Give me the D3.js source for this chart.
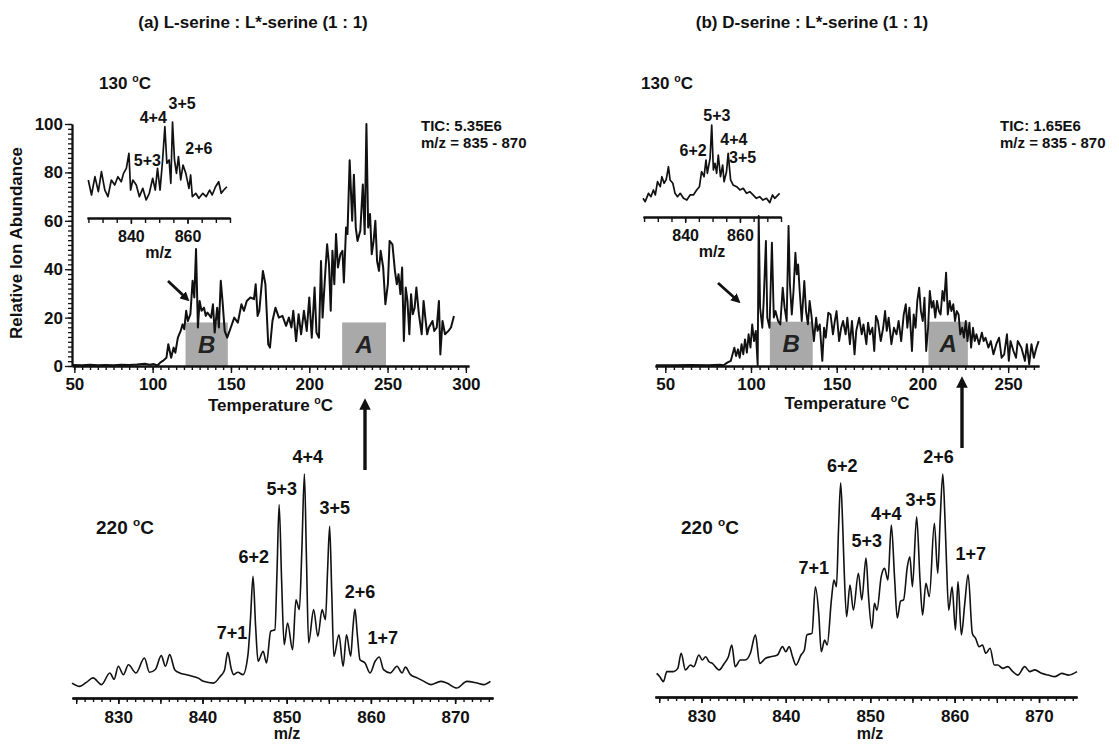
<!DOCTYPE html>
<html>
<head>
<meta charset="utf-8">
<title>L-serine / D-serine : L*-serine octamers</title>
<script src="https://d3js.org/d3.v7.min.js"></script>
<style>
  body { margin: 0; background: #fff; }
  svg text { font-family: "Liberation Sans", Arial, sans-serif; font-weight: bold; fill: #111; }
  .axis path, .axis line { stroke: #111; }
</style>
</head>
<body>
<script>
// ---- data ----
// total ion chromatograms, [temperature C, relative abundance]
var ticA = [[48.5,0.4],[55,0.3],[60,0.5],[65,0.3],[70,0.4],[75,0.3],[80,0.5],[85,0.4],[90,0.6],[95,0.9],[98,0.5],[100.8,0.8],[103.1,0.2],[105,1.5],[106.5,2.1],[108.8,3.4],[110,9.0],[111.8,3.4],[113.4,7.6],[114.5,5.5],[116.1,11.7],[117.9,14.5],[119.1,17.2],[120.2,15.2],[121.4,22.8],[122.5,18.6],[124.1,21.4],[125.5,35.2],[126.6,28.3],[127.7,48.3],[128.9,15.9],[130,26.9],[131.2,22.8],[132.8,24.1],[133.9,20.7],[135,22.1],[137.3,20.0],[138.5,25.5],[139.6,13.8],[141.2,24.1],[142.3,15.9],[143.5,35.2],[144.6,26.9],[146,14.5],[147.6,11.7],[149.9,15.9],[152.1,20.0],[154.4,17.9],[156.7,25.5],[158.3,22.8],[160.1,26.9],[162.4,28.3],[164.7,27.6],[165.8,33.8],[167,20.7],[168.1,22.8],[170.4,39.3],[172,33.8],[173.8,9.0],[174.9,7.6],[176.5,18.6],[178.4,24.1],[180.6,20.0],[182.9,20.7],[185.2,16.6],[187,20.0],[188.6,15.9],[189.8,22.8],[191.6,10.3],[193.2,21.4],[194.8,13.1],[196.6,22.8],[198.4,14.5],[200,28.3],[201.6,11.7],[203.4,32.4],[204.6,13.8],[206.2,11.7],[207.5,43.4],[208.5,20.0],[210.3,39.3],[211.4,50.3],[212.6,42.1],[213.7,22.8],[214.8,47.6],[216,33.8],[217.1,54.5],[218.3,40.7],[219.9,46.2],[221.2,47.6],[222.1,34.5],[223.5,57.2],[224.4,54.5],[225.8,85],[227.4,60],[228.5,79],[229.7,57.2],[230.8,51.7],[232.6,55.9],[234.2,75],[235.4,54.5],[236.5,100],[237.6,57.2],[238.8,62.8],[239.9,46.2],[241.1,51.7],[242.2,60.0],[243.3,43.4],[244.5,39.3],[245.6,47.6],[247.2,40.7],[248.6,25.5],[250.2,33.8],[251.3,51.7],[253.1,50.3],[254.7,39.3],[255.9,33.8],[257,37.9],[258.2,29.7],[259.3,40.7],[260.4,10.3],[261.6,32.4],[262.7,26.9],[263.9,13.1],[265,29.7],[266.1,21.4],[267.3,24.1],[268.4,32.4],[270,21.4],[271.8,13.1],[273,26.9],[274.1,20.0],[275.3,13.1],[276.4,15.9],[278.7,18.6],[279.8,14.5],[281.4,15.9],[282.8,26.9],[283.7,4.8],[285.1,18.6],[286.7,13.1],[288.9,14.5],[290.5,15.9],[292.4,20.7]];

var ticB = [[44.5,0.3],[55,0.3],[65,0.4],[75,0.3],[82,0.5],[84,0.3],[86.1,1.4],[88.2,2.1],[90.3,7.6],[91.3,4.1],[92.4,6.9],[93.4,3.4],[94.5,9.0],[95.5,4.8],[96.5,11.0],[97.6,5.5],[98.6,13.1],[99.7,7.6],[100.7,17.2],[101.8,10.3],[102.8,14.5],[103.9,0.3],[104.5,62.0],[105.3,24.1],[106.6,15.8],[107.4,26.9],[108.7,51.7],[109.5,20.0],[110.8,15.8],[112.2,51.0],[113.3,20.0],[114.3,22.7],[115.8,18.6],[117.1,17.2],[118.5,32.4],[119.6,24.1],[120.8,18.6],[121.9,57.9],[122.7,33.7],[123.8,21.3],[124.8,31.0],[125.9,46.8],[126.7,37.9],[127.5,42.0],[128.4,31.0],[129.6,18.6],[131.1,35.1],[132.1,22.7],[133.2,17.2],[134.2,26.9],[135.3,20.7],[136.7,10.3],[138.0,20.0],[138.8,14.5],[140.1,17.2],[141.6,2.1],[142.6,15.8],[143.6,11.7],[145.1,22.0],[146.4,21.3],[147.8,13.1],[148.9,18.6],[149.9,22.7],[151.4,10.3],[152.6,15.8],[153.7,18.6],[155.2,13.1],[156.2,20.0],[157.7,9.0],[158.9,18.6],[160.4,4.8],[161.4,14.5],[163.1,20.0],[164.6,13.1],[165.6,17.2],[167.3,9.0],[168.3,17.9],[169.4,13.1],[170.8,15.8],[171.9,6.2],[172.9,20.7],[174.0,18.6],[175.7,10.3],[177.1,15.8],[178.2,22.7],[179.2,14.5],[180.3,20.0],[181.9,9.0],[183.4,15.8],[184.9,13.1],[186.1,18.6],[187.6,10.3],[189.1,21.3],[190.3,25.5],[191.2,15.8],[192.4,24.1],[193.9,6.2],[194.9,21.3],[196.0,15.8],[197.0,26.9],[198.1,32.4],[199.1,22.7],[200.2,18.6],[201.2,28.2],[202.2,6.2],[203.3,15.8],[204.3,31.0],[205.4,24.1],[206.4,26.9],[207.5,20.0],[208.5,26.9],[209.6,22.7],[210.6,21.3],[211.7,31.0],[212.7,26.9],[213.8,38.6],[214.8,21.3],[215.9,26.9],[216.9,22.7],[218.0,25.5],[219.0,18.6],[220.0,22.7],[221.1,21.3],[222.1,13.1],[223.2,15.8],[224.2,11.7],[225.3,18.6],[226.3,10.3],[227.4,17.9],[228.4,7.6],[229.5,15.8],[230.5,10.3],[231.5,13.1],[233.0,9.0],[234.7,13.8],[235.7,10.3],[236.8,11.7],[238.5,7.6],[239.9,10.3],[241.4,4.8],[243.1,9.0],[244.7,11.7],[246.2,3.4],[247.7,4.8],[249.3,13.1],[250.4,2.1],[251.4,10.3],[253.1,6.2],[254.6,3.4],[255.6,10.3],[257.7,7.6],[258.8,4.8],[259.8,2.1],[260.9,9.0],[262.3,0.7],[263.6,9.0],[265.0,3.4],[266.5,7.6],[267.8,10.3]];

// mass spectra at 130 C (insets), [m/z, relative intensity]
var inset130A = [[824.95,28.4],[826.1,9.9],[827.3,32.5],[828.5,14.0],[829.6,38.7],[830.8,16.0],[831.9,7.8],[833.1,28.4],[834.3,22.2],[835.4,32.5],[836.6,26.3],[837.4,36.6],[838.4,42.8],[839.3,61.3],[839.9,16.0],[840.7,28.4],[841.9,22.2],[843.0,7.8],[844.2,18.1],[845.4,3.7],[846.5,12.0],[847.7,30.5],[848.6,16.0],[849.4,42.8],[850.3,16.0],[851.2,53.1],[852.0,94.2],[852.7,49.0],[853.5,53.1],[854.1,24.3],[854.7,100],[855.4,53.1],[856.1,36.6],[856.8,57.2],[857.6,28.4],[858.4,46.9],[859.4,36.6],[860.5,18.1],[861.1,34.6],[861.7,7.8],[862.9,12.0],[864.0,5.8],[865.4,12.0],[866.6,7.8],[867.8,16.0],[868.7,9.9],[869.9,20.1],[871.0,26.3],[871.9,12.0],[872.8,16.0],[873.9,20.1]];

var inset130B = [[824.6,6.0],[825.4,1.7],[826.6,12.4],[827.5,8.1],[828.4,16.7],[829.1,10.3],[829.9,27.3],[830.9,20.9],[831.5,33.7],[832.3,25.3],[833.1,30.4],[833.9,46.5],[834.5,29.5],[835.5,25.3],[836.3,12.4],[837.2,8.1],[838.2,12.4],[839.4,6.0],[840.6,3.8],[841.8,10.3],[843.0,10.3],[844.2,16.7],[845.2,20.9],[846.0,40.1],[846.9,33.7],[847.6,55.1],[848.1,38.1],[849.1,57.3],[849.7,100],[850.3,42.3],[850.9,50.9],[851.5,38.1],[852.1,61.5],[852.9,33.7],[853.7,48.7],[854.2,27.3],[855.1,40.1],[855.7,63.7],[856.6,29.5],[857.5,23.1],[858.8,20.9],[860.0,16.7],[861.2,18.8],[862.4,12.4],[863.6,14.5],[864.8,10.3],[866.0,6.0],[867.2,8.1],[868.4,3.8],[869.7,6.0],[870.9,0.5],[871.9,10.3],[872.7,6.0],[874.5,12.4]];

// mass spectra at 220 C, [m/z, relative intensity]
var spec220A = [[824.5,3.2],[825.4,1.7],[826.2,3.5],[827.0,5.6],[828.0,2.5],[829.0,7.9],[829.5,5.0],[830.0,11.0],[830.6,7.1],[831.2,11.7],[832.1,7.9],[833.1,14.8],[833.7,8.2],[834.4,9.5],[835.1,15.9],[835.6,11.0],[836.1,16.4],[836.7,9.4],[837.3,7.9],[838.1,7.1],[838.9,6.3],[839.5,5.5],[840.1,4.0],[841.3,3.2],[842.1,6.3],[842.6,9.0],[843.0,17.4],[843.4,10.0],[843.7,7.1],[844.2,8.2],[844.8,7.1],[845.4,16.4],[845.7,33.0],[846.0,52.6],[846.3,30.0],[846.6,13.3],[847.2,17.9],[847.6,12.5],[848.1,27.2],[848.6,27.9],[848.85,55],[849.1,85.8],[849.4,50],[849.7,21.0],[850.1,31.0],[850.7,18.7],[851.1,41.8],[851.5,37.2],[851.8,65],[852.1,100],[852.35,60],[852.6,21.8],[853.2,37.2],[853.7,24.8],[854.2,37.2],[854.6,32.6],[854.85,55],[855.1,75.8],[855.35,45],[855.6,15.6],[856.2,25.6],[856.7,11.0],[857.1,25.6],[857.6,15.6],[857.85,28],[858.1,37.5],[858.4,25],[858.7,14.0],[859.3,12.5],[859.9,7.9],[860.5,13.3],[861.0,15.3],[861.5,9.4],[862.3,7.9],[863.1,11.0],[863.7,7.9],[864.1,10.6],[864.7,7.1],[865.5,5.6],[866.3,4.0],[867.1,2.5],[868.3,4.0],[869.0,3.2],[870.2,0.9],[871.4,4.0],[872.6,3.2],[873.4,2.5],[874.2,4.0]];

var spec220B = [[824.7,7.7],[825.05,6.2],[825.5,3.9],[825.9,8.5],[826.7,8.5],[827.2,10],[827.6,17.0],[828.1,9.3],[828.7,11.6],[829.1,10.8],[829.7,16.2],[830.1,13.9],[830.5,15.4],[830.9,13.1],[831.3,12.3],[832.1,9.3],[832.7,12.3],[833.2,15.4],[833.6,20.8],[834.0,10.8],[834.6,13.9],[835.2,13.9],[835.8,17.0],[836.4,25.5],[836.9,12.3],[837.6,14.7],[838.2,15.4],[839.0,16.2],[839.6,20.1],[840.0,17.7],[840.4,20.1],[840.8,15.4],[841.2,11.6],[841.8,16.2],[842.2,18.5],[842.5,25.5],[843.1,26.2],[843.5,47.8],[843.9,35.5],[844.2,17.7],[844.6,23.1],[844.9,20.8],[845.4,41.7],[845.7,50.9],[846.0,47.8],[846.25,75],[846.5,95.9],[846.75,75],[846.9,57.1],[847.2,33.9],[847.6,48.6],[848.0,37.0],[848.6,54.0],[849.0,41.7],[849.5,61.1],[849.8,43.2],[850.2,28.5],[850.5,40.1],[850.8,37.0],[851.3,52.5],[851.7,56.3],[852.1,50.9],[852.5,76.4],[852.9,50.9],[853.2,33.4],[853.6,41.1],[853.95,41.7],[854.4,57.1],[854.7,61.7],[855.0,47.8],[855.5,80.2],[855.9,50.9],[856.2,34.7],[856.6,49.4],[857.0,43.2],[857.6,77.2],[858.0,54.0],[858.3,80],[858.6,100],[858.85,80],[859.0,63.3],[859.3,37.0],[859.7,47.8],[860.1,27.8],[860.4,50.2],[860.8,25.5],[861.2,40],[861.6,53.5],[862.1,26.2],[862.5,23.8],[862.9,20.1],[863.3,20.8],[863.7,17.0],[864.2,19.3],[864.7,11.6],[865.1,11.6],[865.7,10.0],[866.3,10.8],[866.9,8.5],[867.5,6.9],[868.3,10.8],[868.9,8.5],[869.5,9.3],[870.3,7.7],[871.1,6.9],[871.9,6.2],[872.7,7.7],[873.5,6.9],[874.5,8.5]];

// shaded temperature windows [label, from C, to C, height]
var windowsA = [["B", 121, 148, 18], ["A", 221, 249, 18]];
var windowsB = [["B", 111, 136, 18.3], ["A", 203.5, 226.5, 18.3]];

// peak labels [text, m/z, intensity]
var peaks220A = [["7+1",843.5,26.4],["6+2",846.1,61.6],["5+3",849.4,93.5],["4+4",852.5,107.9],["3+5",855.7,84.3],["2+6",858.7,45.8],["1+7",861.4,24.1]];
var peaks220B = [["7+1",843.3,56.5],["6+2",846.7,103.7],["5+3",849.6,69.0],["4+4",851.9,81.9],["3+5",856.0,88.0],["2+6",858.1,107.9],["1+7",861.9,63.4]];
var peaks130A = [["5+3",845.8,53],["4+4",847.9,106],["3+5",858.1,123],["2+6",864.0,68]];
var peaks130B = [["6+2",842.9,68],["5+3",851.6,112.8],["4+4",857.8,82],["3+5",861.0,59]];

var titles = ["(a) L-serine : L*-serine (1 : 1)", "(b) D-serine : L*-serine (1 : 1)"];
var ticLabels = [["TIC: 5.35E6", "m/z = 835 - 870"], ["TIC: 1.65E6", "m/z = 835 - 870"]];

// ---- drawing ----
var svg = d3.select("body").append("svg")
    .attr("width", 1119)
    .attr("height", 746);

svg.append("defs").append("marker")
    .attr("id", "head")
    .attr("viewBox", "0 0 10 10")
    .attr("refX", 5).attr("refY", 5)
    .attr("markerWidth", 3.4).attr("markerHeight", 3.4)
    .attr("orient", "auto")
  .append("path")
    .attr("d", "M0,0 L10,5 L0,10 z")
    .attr("fill", "#111");

function degLabel(g, x, y, before, after, size, anchor) {
  var t = g.append("text").attr("x", x).attr("y", y)
      .attr("font-size", size).attr("text-anchor", anchor || "middle");
  t.append("tspan").text(before);
  t.append("tspan").attr("font-size", size * 0.62).attr("dy", -size * 0.4).text("o");
  t.append("tspan").attr("dy", size * 0.4).text(after);
  return t;
}

function hAxis(y, scale, minor, mid, major, sizes, pad, fsize) {
  var g = svg.append("g").attr("class", "axis").attr("transform", "translate(0," + y + ")");
  g.append("g").call(d3.axisBottom(scale).tickValues(minor).tickSize(sizes[0]).tickFormat("").tickSizeOuter(0));
  if (mid) g.append("g").call(d3.axisBottom(scale).tickValues(mid).tickSize(sizes[1]).tickFormat("").tickSizeOuter(0));
  var lab = g.append("g").call(d3.axisBottom(scale).tickValues(major).tickSize(sizes[2]).tickPadding(pad).tickSizeOuter(0).tickFormat(d3.format("d")));
  g.selectAll("path.domain").attr("stroke-width", 1.8);
  g.selectAll(".tick line").attr("stroke-width", 1.4);
  g.selectAll("g").attr("font-family", null);
  lab.selectAll("text").attr("font-size", fsize).attr("fill", "#111");
  return g;
}

var line = d3.line().x(function(d){ return d[0]; }).y(function(d){ return d[1]; });

function trace(data, xs, ys, width, curve) {
  var l = d3.line().x(function(d){ return xs(d[0]); }).y(function(d){ return ys(d[1]); })
      .curve(curve || d3.curveLinear);
  svg.append("path").datum(data)
      .attr("d", l)
      .attr("fill", "none")
      .attr("stroke", "#111")
      .attr("stroke-width", width)
      .attr("stroke-linejoin", "round");
}

function windows(data, xs, ys) {
  svg.selectAll(null).data(data).enter().append("rect")
      .attr("x", function(d){ return xs(d[1]); })
      .attr("width", function(d){ return xs(d[2]) - xs(d[1]); })
      .attr("y", function(d){ return ys(d[3]); })
      .attr("height", function(d){ return ys(0) - ys(d[3]); })
      .attr("fill", "#a9a9a9");
}
function windowLetters(data, xs, ys) {
  svg.selectAll(null).data(data).enter().append("text")
      .attr("x", function(d){ return xs((d[1] + d[2]) / 2); })
      .attr("y", function(d){ return ys(d[3] / 2); })
      .attr("dy", "0.36em")
      .attr("text-anchor", "middle")
      .attr("font-size", 24)
      .attr("font-style", "italic")
      .style("fill", "#222")
      .text(function(d){ return d[0]; });
}

function peakLabels(data, xs, ys, size) {
  svg.selectAll(null).data(data).enter().append("text")
      .attr("x", function(d){ return xs(d[1]); })
      .attr("y", function(d){ return ys(d[2]); })
      .attr("dy", "0.36em")
      .attr("text-anchor", "middle")
      .attr("font-size", size)
      .text(function(d){ return d[0]; });
}

// scales
var xTa = d3.scaleLinear().domain([48.5, 302]).range([72, 469]);
var xTb = d3.scaleLinear().domain([44, 268]).range([655, 1039]);
var yT = d3.scaleLinear().domain([0, 100]).range([366, 124]);

var xIa = d3.scaleLinear().domain([824.5, 875]).range([87, 230]);
var xIb = d3.scaleLinear().domain([824.6, 875]).range([643, 781]);
var yIa = d3.scaleLinear().domain([0, 100]).range([203, 122]);
var yIb = d3.scaleLinear().domain([0, 100]).range([203, 125]);

var xSa = d3.scaleLinear().domain([824.5, 874.5]).range([72, 493]);
var xSb = d3.scaleLinear().domain([824.5, 874.5]).range([655, 1077]);
var yS = d3.scaleLinear().domain([0, 100]).range([690, 474]);

// titles
svg.selectAll(".title").data(titles).enter().append("text")
    .attr("class", "title")
    .attr("x", function(d, i){ return i ? 812 : 253; })
    .attr("y", 28)
    .attr("text-anchor", "middle")
    .attr("font-size", 17)
    .text(function(d){ return d; });

// --- panel (a) top: TIC vs temperature ---
windows(windowsA, xTa, yT);
trace(ticA, xTa, yT, 2);
windowLetters(windowsA, xTa, yT);
hAxis(366, xTa, d3.range(50, 301, 5), null, d3.range(50, 301, 50), [4, 4, 7], 5, 17);

var yAx = svg.append("g").attr("class", "axis").attr("transform", "translate(72,0)");
yAx.append("g").call(d3.axisLeft(yT).tickValues(d3.range(0, 101, 2)).tickSize(4).tickFormat("").tickSizeOuter(0));
var yLab = yAx.append("g").call(d3.axisLeft(yT).tickValues(d3.range(0, 101, 20)).tickSize(7).tickPadding(2).tickSizeOuter(0));
yAx.selectAll("path.domain").attr("stroke-width", 1.8);
yAx.selectAll(".tick line").attr("stroke-width", 1.3);
yAx.selectAll("g").attr("font-family", null);
yLab.selectAll("text").attr("font-size", 17).attr("fill", "#111");

svg.append("text")
    .attr("transform", "translate(22,243) rotate(-90)")
    .attr("text-anchor", "middle")
    .attr("font-size", 17)
    .text("Relative Ion Abundance");

degLabel(svg, (72 + 469) / 2, 411, "Temperature ", "C", 17);

// --- panel (b) top ---
windows(windowsB, xTb, yT);
trace(ticB, xTb, yT, 1.9);
windowLetters(windowsB, xTb, yT);
hAxis(366, xTb, d3.range(45, 266, 5), null, d3.range(50, 251, 50), [4, 4, 7], 5, 17);
degLabel(svg, (655 + 1039) / 2, 409, "Temperature ", "C", 17);

// TIC notes
ticLabels.forEach(function(lines, i) {
  var x = i ? 1000 : 421;
  lines.forEach(function(s, j) {
    svg.append("text").attr("x", x).attr("y", 131 + j * 17).attr("font-size", 15).text(s);
  });
});

// --- insets (130 C) ---
trace(inset130A, xIa, yIa, 1.7);
hAxis(218, xIa, d3.range(825, 876, 5), null, [840, 860], [5, 5, 6], 7, 16);
peakLabels(peaks130A, xIa, yIa, 16);
degLabel(svg, 125, 89, "130 ", "C", 17);
svg.append("text").attr("x", (87 + 230) / 2).attr("y", 258).attr("text-anchor", "middle").attr("font-size", 16).text("m/z");

trace(inset130B, xIb, yIb, 1.7);
hAxis(217, xIb, d3.range(825, 876, 5), null, [840, 860], [5, 5, 6], 7, 16);
peakLabels(peaks130B, xIb, yIb, 16);
degLabel(svg, 667, 89, "130 ", "C", 17);
svg.append("text").attr("x", (643 + 781) / 2).attr("y", 257).attr("text-anchor", "middle").attr("font-size", 16).text("m/z");

// --- bottom spectra (220 C) ---
trace(spec220A, xSa, yS, 1.6, d3.curveMonotoneX);
hAxis(698, xSa, d3.range(825, 875, 1), d3.range(825, 875, 5), d3.range(830, 871, 10), [4, 6, 6], 7, 17);
peakLabels(peaks220A, xSa, yS, 18);
degLabel(svg, 125, 534, "220 ", "C", 19);
svg.append("text").attr("x", 287).attr("y", 739).attr("text-anchor", "middle").attr("font-size", 16).text("m/z");

trace(spec220B, xSb, yS, 1.6, d3.curveMonotoneX);
hAxis(697, xSb, d3.range(825, 875, 1), d3.range(825, 875, 5), d3.range(830, 871, 10), [4, 6, 6], 7, 17);
peakLabels(peaks220B, xSb, yS, 18);
degLabel(svg, 710, 534, "220 ", "C", 19);
svg.append("text").attr("x", 870).attr("y", 739).attr("text-anchor", "middle").attr("font-size", 16).text("m/z");

// arrows: temperature of the 220 C spectrum, and onset marker
var arrows = [
  [[365, 470], [365, 404], 3.4],
  [[962, 448], [962, 382], 3.4],
  [[168, 281], [186, 298], 2.8],
  [[718, 283], [737, 300], 2.8]
];
arrows.forEach(function(a) {
  svg.append("path")
      .attr("d", line([a[0], a[1]]))
      .attr("stroke", "#111")
      .attr("stroke-width", a[2])
      .attr("marker-end", "url(#head)");
});
</script>
</body>
</html>
